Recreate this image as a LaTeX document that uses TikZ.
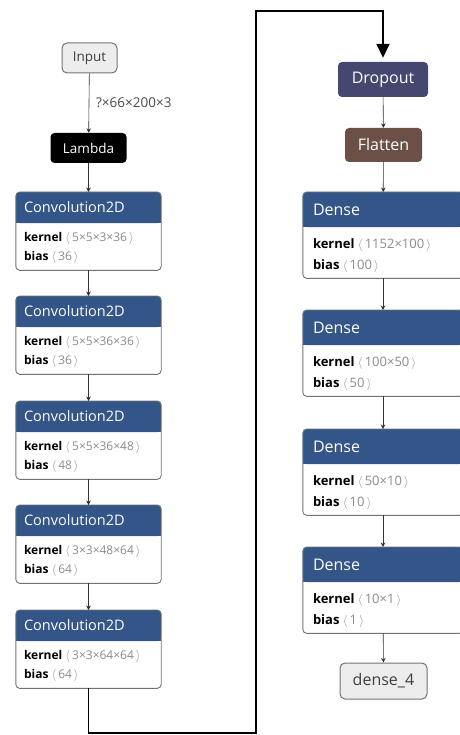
\documentclass[tikz,border=0pt]{standalone}
\usepackage{fontspec}
\setmainfont{Open Sans}
\usetikzlibrary{arrows.meta,positioning}
\definecolor{layerblue}{HTML}{335588}
\definecolor{dropviolet}{HTML}{454770}
\definecolor{flatbrown}{HTML}{6C4F47}

\begin{document}
\begin{tikzpicture}[x=1pt,y=-1pt,
  io/.style={rectangle, draw=black!55, line width=1pt, rounded corners=5pt,
             fill=black!7, text=black!75, inner sep=0pt},
  tag/.style={rectangle, rounded corners=4pt, text=white, inner sep=0pt},
  convbox/.style={rectangle, fill=white, inner sep=0pt,
                  minimum width=145pt, minimum height=78pt},
  densebox/.style={rectangle, fill=white, inner sep=0pt,
                   minimum width=160pt, minimum height=86pt},
  frame/.style={draw=black!55, line width=0.9pt, rounded corners=4pt},
  head/.style={text=white, inner sep=0pt},
  param/.style={inner sep=0pt},
  small/.style={font=\fontsize{13.5}{15}\selectfont},
  large/.style={font=\fontsize{16}{18}\selectfont},
  link/.style={-{Stealth[length=4.5pt,width=4.5pt]}, black!80, line width=0.6pt},
  feed/.style={-{Triangle[length=14pt,width=13pt]}, line width=1.7pt, shorten >=4pt}
]
  \useasboundingbox (0,0) rectangle (459,735);

  % Left column
  \node[io, small, minimum width=55pt, minimum height=30pt] (input) at (89.5,58) {Input};
  \node[tag, small, fill=black, minimum width=76pt, minimum height=30pt] (lambda) at (88.5,148) {Lambda};
  \node[param, anchor=west, text=black!70, font=\fontsize{13.5}{15}\selectfont] (shape) at (96,103) {?×66×200×3};

  \foreach \n/\top/\k/\b in {1/192/5×5×3×36/36, 2/296/5×5×36×36/36,
      3/401/5×5×36×48/48, 4/505/3×3×48×64/64, 5/610/3×3×64×64/64} {
    \node[convbox, anchor=north] (c\n) at (88.5,\top) {};
    \fill[layerblue, rounded corners=4pt] (c\n.north west) rectangle ([yshift=-31pt]c\n.north east);
    \fill[layerblue] ([yshift=-20pt]c\n.north west) rectangle ([yshift=-31pt]c\n.north east);
    \draw[frame] (c\n.north west) rectangle (c\n.south east);
    \node[head, anchor=west, font=\fontsize{14.5}{16}\selectfont]
      at ([xshift=8pt,yshift=-15.5pt]c\n.north west) {Convolution2D};
    \node[param, anchor=west, font=\fontsize{12}{14}\selectfont]
      at ([xshift=8pt,yshift=-46pt]c\n.north west)
      {\textbf{kernel}\ \textcolor{black!45}{$\langle$\,\k\,$\rangle$}};
    \node[param, anchor=west, font=\fontsize{12}{14}\selectfont]
      at ([xshift=8pt,yshift=-65pt]c\n.north west)
      {\textbf{bias}\ \textcolor{black!45}{$\langle$\,\b\,$\rangle$}};
  }

  % Right column
  \node[tag, large, fill=dropviolet, minimum width=90pt, minimum height=35pt] (drop) at (383,79.5) {Dropout};
  \node[tag, large, fill=flatbrown, minimum width=77pt, minimum height=34pt] (flat) at (383.5,145) {Flatten};

  \foreach \n/\top/\k/\b in {1/192/1152×100/100, 2/310/100×50/50,
      3/429/50×10/10, 4/547/10×1/1} {
    \node[densebox, anchor=north] (d\n) at (383,\top) {};
    \fill[layerblue, rounded corners=4pt] (d\n.north west) rectangle ([yshift=-35pt]d\n.north east);
    \fill[layerblue] ([yshift=-22pt]d\n.north west) rectangle ([yshift=-35pt]d\n.north east);
    \draw[frame] (d\n.north west) rectangle (d\n.south east);
    \node[head, large, anchor=west] at ([xshift=10pt,yshift=-17.5pt]d\n.north west) {Dense};
    \node[param, anchor=west, font=\fontsize{13}{15}\selectfont]
      at ([xshift=10pt,yshift=-53pt]d\n.north west)
      {\textbf{kernel}\ \textcolor{black!45}{$\langle$\,\k\,$\rangle$}};
    \node[param, anchor=west, font=\fontsize{13}{15}\selectfont]
      at ([xshift=10pt,yshift=-74pt]d\n.north west)
      {\textbf{bias}\ \textcolor{black!45}{$\langle$\,\b\,$\rangle$}};
  }
  \node[io, large, minimum width=87pt, minimum height=36pt] (out) at (383.5,681) {dense\_4};

  % Links
  \draw[link] (input) -- (lambda);
  \draw[link] (lambda) -- (c1);
  \draw[link] (c1) -- (c2);
  \draw[link] (c2) -- (c3);
  \draw[link] (c3) -- (c4);
  \draw[link] (c4) -- (c5);
  \draw[link] (drop) -- (flat);
  \draw[link] (flat) -- (d1);
  \draw[link] (d1) -- (d2);
  \draw[link] (d2) -- (d3);
  \draw[link] (d3) -- (d4);
  \draw[link] (d4) -- (out);

  % Column break
  \coordinate (low) at (256,733);
  \coordinate (high) at (256,11);
  \draw[feed] (c5.south) |- (low) -- (high) -| (drop.north);
\end{tikzpicture}
\end{document}
